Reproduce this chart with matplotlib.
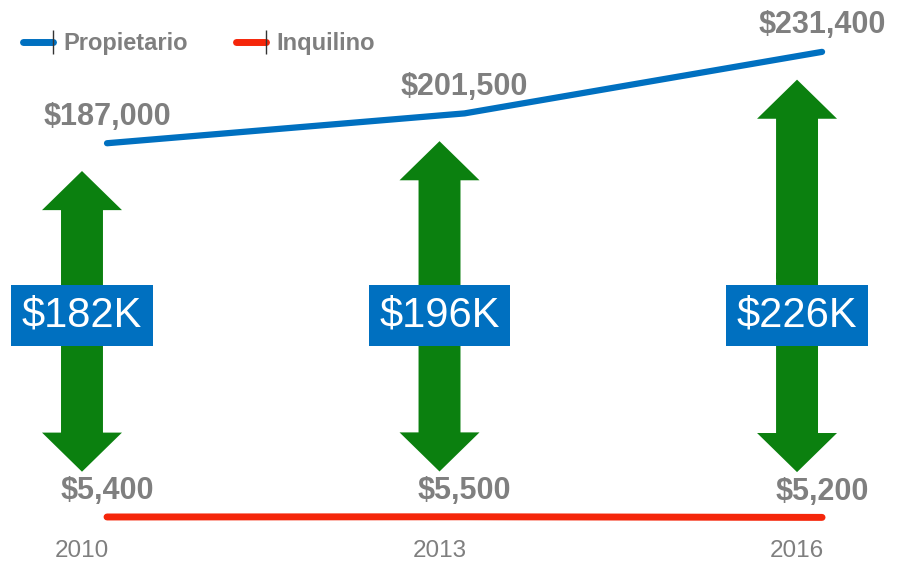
import matplotlib.pyplot as plt
from matplotlib.lines import Line2D
from matplotlib.legend_handler import HandlerLine2D
from matplotlib.patches import FancyArrow
import matplotlib.transforms as mtransforms

years = [2010, 2013, 2016]
propietario = [187000, 201500, 231400]
inquilino = [5400, 5500, 5200]
gap_labels = ["$182K", "$196K", "$226K"]

BLUE = "#0070C0"
RED = "#F5260A"
GREEN = "#0B800F"
GREY = "#7F7F7F"

plt.rcParams['font.family'] = ['Liberation Sans', 'DejaVu Sans']


class HandlerEndTick(HandlerLine2D):
    # legend line with the marker only on its right end
    def create_artists(self, legend, orig_handle, xdescent, ydescent,
                       width, height, fontsize, trans):
        arts = super().create_artists(legend, orig_handle, xdescent, ydescent,
                                      width, height, fontsize, trans)
        for a in arts:
            a.set_markevery([2])
        return arts


fig = plt.figure(figsize=(9, 5.63), dpi=100)
ax = fig.add_axes([0, 0, 1, 1])
ax.set_xlim(2009.102, 2016.654)
ax.set_ylim(-16960, 256600)
ax.axis('off')

ax.plot(years, propietario, color=BLUE, lw=4.5, solid_capstyle='round', zorder=3)
ax.plot(years, inquilino, color=RED, lw=5, solid_capstyle='round', zorder=3)

for x, v in zip(years, propietario):
    ax.annotate(f"${v:,}", (x, v), xytext=(0, 19), textcoords='offset points',
                ha='center', va='center', fontsize=22, fontweight='bold', color=GREY)
for x, v in zip(years, inquilino):
    ax.annotate(f"${v:,}", (x, v), xytext=(0, 18.5), textcoords='offset points',
                ha='center', va='center', fontsize=22, fontweight='bold', color=GREY)

# double arrows showing the gap, drawn as two arrows from the middle
trans = mtransforms.blended_transform_factory(ax.transData, ax.transAxes)
shaft_w = 0.352
head_w = 0.671
head_len = 19000
for x, top, bot, lab in zip(years, propietario, inquilino, gap_labels):
    ax_x = x - 0.21
    hi = top - 13500
    lo = bot + 22000
    mid = (hi + lo) / 2
    for end in (hi, lo):
        start = mid - 1500 if end > mid else mid + 1500
        ax.add_patch(FancyArrow(ax_x, start, 0, end - start, width=shaft_w,
                                head_width=head_w, head_length=head_len,
                                length_includes_head=True, color=GREEN, lw=0, zorder=2))
    ax.text(ax_x, 0.439, lab, transform=trans, ha='center', va='center',
            fontsize=30, color='white', zorder=4,
            bbox=dict(boxstyle='square,pad=0.25', fc=BLUE, ec='none'))
    ax.text(ax_x, 0.021, str(x), transform=trans, ha='center', va='center',
            fontsize=17.5, color=GREY)

handles = [
    Line2D([], [], color=BLUE, lw=5, solid_capstyle='round', marker='|',
           markersize=17, markeredgecolor='#333333', markeredgewidth=1),
    Line2D([], [], color=RED, lw=5, solid_capstyle='round', marker='|',
           markersize=17, markeredgecolor='#333333', markeredgewidth=1),
]
leg = ax.legend(handles, ["Propietario", "Inquilino"], loc='center left',
                bbox_to_anchor=(0.025, 0.923), ncol=2, frameon=False,
                handlelength=1.3, handletextpad=0.45, columnspacing=2.0,
                borderaxespad=0, borderpad=0,
                handler_map={Line2D: HandlerEndTick()},
                prop={'size': 17, 'weight': 'bold'})
for t in leg.get_texts():
    t.set_color(GREY)

fig.savefig("out.png", dpi=100)
